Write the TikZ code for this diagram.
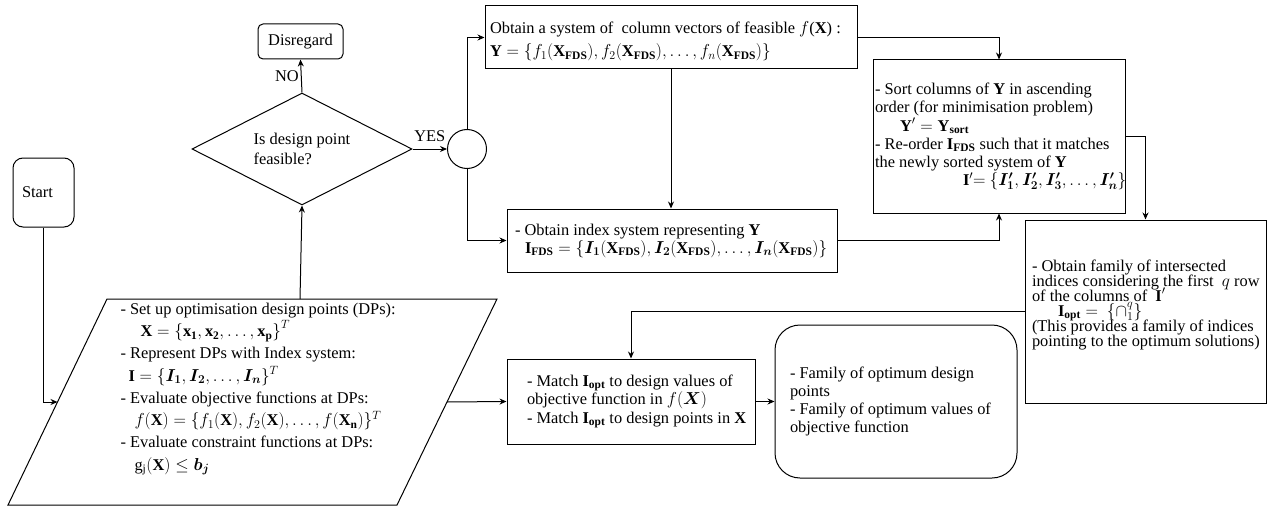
\documentclass[tikz,border=0pt]{standalone}
\usepackage{amsmath}
\usepackage{fontspec}
\setmainfont{Liberation Serif}
\usepackage{bm}
\usetikzlibrary{shapes.geometric,arrows.meta,calc}
\newcommand{\fs}[1]{\fontsize{16.4}{#1}\selectfont\lineskiplimit=-30pt\relax}
\tikzset{
  every picture/.style={line width=1pt},
  arr/.style={-{Stealth[length=7pt,width=6pt]}},
  box/.style={draw, rectangle, inner sep=0pt},
  rbox/.style={draw, rectangle, rounded corners=#1, inner sep=0pt},
  txt/.style={inner sep=0pt, align=left, anchor=west, font=\fs{18}},
  lbl/.style={font=\fs{18}, inner sep=2pt},
}
\begin{document}
\begin{tikzpicture}[x=1pt,y=-1pt]
\useasboundingbox (0,0) rectangle (1279,508);

% nodes
\node[rbox=10pt, minimum width=61pt, minimum height=69pt, font=\fs{18}] (start) at (43.5,192.5) {\hspace*{-12pt}Start};
\node[rbox=5pt, minimum width=85pt, minimum height=35pt, font=\fs{18}] (dis) at (300.5,41.5) {Disregard};
\node[draw, diamond, aspect=1.96, minimum width=220pt, minimum height=112pt, inner sep=0pt, align=left, font=\fs{20}] (dec) at (302,149) {Is design point\\feasible?};
\node[draw, circle, minimum size=39pt, inner sep=0pt] (circ) at (467,149) {};

\node[box, minimum width=372pt, minimum height=63pt] (top) at (671,37.5) {};
\node[txt, font=\fs{23}] (topT) at ([xshift=5pt,yshift=-4pt]top.west)
  {Obtain a system of \ column vectors of feasible $f$($\mathbf{X}$) :\\
   $\mathbf{Y}=\{f_1(\mathbf{X_{FDS}}), f_2(\mathbf{X_{FDS}}), \dots, f_n(\mathbf{X_{FDS}})\}$};

\node[box, minimum width=330pt, minimum height=63pt] (ifds) at (672,240.5) {};
\node[txt] (ifdsT) at ([xshift=8pt]ifds.west)
  {- Obtain index system representing $\mathbf{Y}$\\
   \hspace*{10pt}$\mathbf{I_{FDS}} = \{\bm{I_1}(\mathbf{X_{FDS}}), \bm{I_2}(\mathbf{X_{FDS}}), \dots, \bm{I_n}(\mathbf{X_{FDS}})\}$};

\node[box, minimum width=252pt, minimum height=153pt] (sort) at (999,136.5) {};
\node[txt, font=\fs{18.2}] (sortT) at ([xshift=2pt]sort.west)
  {- Sort columns of $\mathbf{Y}$ in ascending\\
   order (for minimisation problem)\\
   \hspace*{25pt}$\mathbf{Y'} = \mathbf{Y_{sort}}$\\
   - Re-order $\mathbf{I_{FDS}}$ such that it matches\\
   the newly sorted system of $\mathbf{Y}$\\
   \hspace*{88pt}$\mathbf{I'}{=}\ \{\bm{I'_1}, \bm{I'_2}, \bm{I'_3}, \dots, \bm{I'_n}\}$};

\node[box, minimum width=241pt, minimum height=183pt] (inter) at (1145.5,311.5) {};
\node[txt, font=\fs{15}] (interT) at ([xshift=7pt,yshift=7pt]inter.west)
  {- Obtain family of intersected\\
   indices considering the first \ $q$ row\\
   of the columns of \ $\mathbf{I'}$\\
   \hspace*{26pt}$\mathbf{I_{opt}} = \ \{\cap_1^q\}$\\
   (This provides a family of indices\\
   pointing to the optimum solutions)};

\node[box, minimum width=248pt, minimum height=85pt] (match) at (631,401.5) {};
\node[txt, font=\fs{18.5}] (matchT) at ([xshift=20pt]match.west)
  {- Match $\mathbf{I_{opt}}$ to design values of\\
   objective function in $f(\bm{X})$\\
   - Match $\mathbf{I_{opt}}$ to design points in $\mathbf{X}$};

\node[rbox=25pt, minimum width=242pt, minimum height=153pt] (res) at (896,401.5) {};
\node[txt, font=\fs{18.3}] (resT) at ([xshift=15pt]res.west)
  {- Family of optimum design\\
   points\\
   - Family of optimum values of\\
   objective function};

% parallelogram (design points)
\coordinate (pBL) at (8,505);
\coordinate (pBR) at (397,505);
\coordinate (pTR) at (497,299);
\coordinate (pTL) at (107,299);
\coordinate (pL) at (57.5,402);
\coordinate (pR) at (447,402);
\coordinate (pT) at (300,299);
\draw (pBL) -- (pBR) -- (pTR) -- (pTL) -- cycle;
\node[txt, font=\fs{22.3}] (dpT) at (120,389)
  {- Set up optimisation design points (DPs):\\
   \hspace*{20pt}$\mathbf{X} = \left\{\mathbf{x_1}, \mathbf{x_2}, \dots, \mathbf{x_p}\right\}^T$\\
   - Represent DPs with Index system:\\
   \hspace*{8pt}$\mathbf{I} = \{\bm{I_1}, \bm{I_2}, \dots, \bm{I_n}\}^T$\\
   - Evaluate objective functions at DPs:\\
   \hspace*{14pt}$f(\mathbf{X}) = \{f_1(\mathbf{X}), f_2(\mathbf{X}), \dots, f(\mathbf{X_n})\}^T$\\
   - Evaluate constraint functions at DPs:\\
   \hspace*{14pt}$\mathrm{g_j}(\mathbf{X}) \le \bm{b_j}$};

% connectors
\draw[arr] (start.south) |- (pL);
\draw[arr] (pT) -- (dec.south);
\draw[arr] (dec.north) -- node[lbl, left] {NO} (dis.south);
\draw[arr] (dec.east) -- node[lbl, above=5pt] {YES} (circ.west);
\draw[arr] (circ.north) |- (top.west);
\draw[arr] (circ.south) |- (ifds.west);
\draw[arr] (top.south) -- (top.south |- ifds.north);
\draw[arr] (top.east) -| (sort.north);
\draw[arr] (ifds.east) -| (sort.south);
\draw[arr] (sort.east) -| (inter.north);
\draw[arr] (inter.west) -| (match.north);
\draw[arr] (pR) -- (match.west);
\draw[arr] (match.east) -- (res.west);
\end{tikzpicture}
\end{document}
